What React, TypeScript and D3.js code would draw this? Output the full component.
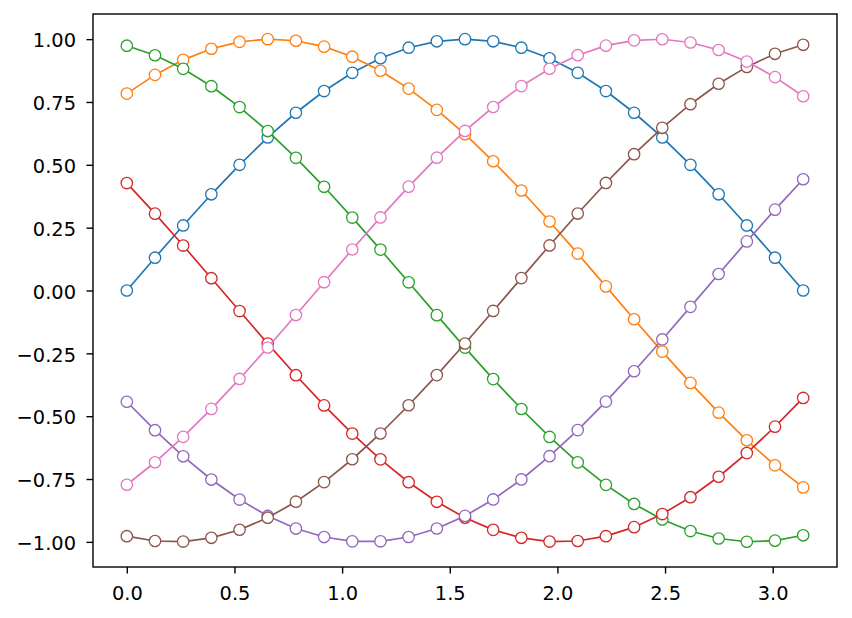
import { useEffect, useRef } from "react";
import * as d3 from "d3";

const WIDTH = 852;
const HEIGHT = 618;
const MARGIN = { top: 14, right: 15, bottom: 51, left: 93 };
const INNER_W = WIDTH - MARGIN.left - MARGIN.right;
const INNER_H = HEIGHT - MARGIN.top - MARGIN.bottom;

// 25 sample positions from 0 to pi
const xValues = [
  0, 0.1309, 0.2618, 0.3927, 0.5236, 0.6545, 0.7854, 0.9163, 1.0472, 1.1781,
  1.309, 1.4399, 1.5708, 1.7017, 1.8326, 1.9635, 2.0944, 2.2253, 2.3562,
  2.4871, 2.618, 2.7489, 2.8798, 3.0107, 3.1416,
];

const blue = [
  0, 0.1305, 0.2588, 0.3827, 0.5, 0.6088, 0.7071, 0.7934, 0.866, 0.9239,
  0.9659, 0.9914, 1, 0.9914, 0.9659, 0.9239, 0.866, 0.7934, 0.7071, 0.6088,
  0.5, 0.3827, 0.2588, 0.1305, 0,
];
const orange = [
  0.7833, 0.8578, 0.9176, 0.9617, 0.9893, 0.9999, 0.9935, 0.9701, 0.9301,
  0.8742, 0.8033, 0.7186, 0.6217, 0.5141, 0.3978, 0.2745, 0.1467, 0.0163,
  -0.1143, -0.2431, -0.3676, -0.4859, -0.5959, -0.6956, -0.7833,
];
const green = [
  0.9738, 0.9359, 0.8818, 0.8128, 0.7298, 0.6344, 0.5279, 0.4126, 0.2902,
  0.1627, 0.0326, -0.0981, -0.2272, -0.3524, -0.4715, -0.5826, -0.6836,
  -0.7732, -0.8492, -0.9109, -0.957, -0.9866, -0.9995, -0.9952, -0.9738,
];
const red = [
  0.4274, 0.3057, 0.1788, 0.0489, -0.0818, -0.2113, -0.337, -0.4571, -0.5693,
  -0.6717, -0.7627, -0.8406, -0.9041, -0.9522, -0.9838, -0.9988, -0.9966,
  -0.9774, -0.9415, -0.8894, -0.8223, -0.7409, -0.6469, -0.5417, -0.4274,
];
const purple = [
  -0.4426, -0.5558, -0.6596, -0.752, -0.8317, -0.8969, -0.947, -0.9808,
  -0.9979, -0.9978, -0.9807, -0.9468, -0.8968, -0.8313, -0.7517, -0.6592,
  -0.5554, -0.442, -0.3212, -0.1948, -0.0651, 0.0657, 0.1953, 0.3216, 0.4426,
];
const brown = [
  -0.9775, -0.9966, -0.9988, -0.9838, -0.9519, -0.9039, -0.8402, -0.7623,
  -0.6713, -0.5689, -0.4566, -0.3366, -0.2108, -0.0813, 0.0494, 0.1793,
  0.3062, 0.4278, 0.5422, 0.6473, 0.7411, 0.8225, 0.8896, 0.9417, 0.9775,
];
const pink = [
  -0.7728, -0.6833, -0.5822, -0.471, -0.3519, -0.2267, -0.0976, 0.0331,
  0.1632, 0.2907, 0.4131, 0.5284, 0.6348, 0.7301, 0.8132, 0.8821, 0.9361,
  0.974, 0.9952, 0.9995, 0.9866, 0.9568, 0.9107, 0.8489, 0.7728,
];

const SERIES = [blue, orange, green, red, purple, brown, pink];
const COLORS = [
  "#1f77b4",
  "#ff7f0e",
  "#2ca02c",
  "#d62728",
  "#9467bd",
  "#8c564b",
  "#e377c2",
];

const xTicks = [0, 0.5, 1, 1.5, 2, 2.5, 3];
const yTicks = [-1, -0.75, -0.5, -0.25, 0, 0.25, 0.5, 0.75, 1];

const FONT = "DejaVu Sans, sans-serif";
const FONT_SIZE = 19.4;

export default function App() {
  const svgRef = useRef<SVGSVGElement>(null);

  useEffect(() => {
    if (!svgRef.current) return;
    const svg = d3.select(svgRef.current);
    svg.selectAll("*").remove();

    const xMin = 0;
    const xMax = xValues[xValues.length - 1];
    const xPad = (xMax - xMin) * 0.05;
    const x = d3
      .scaleLinear()
      .domain([xMin - xPad, xMax + xPad])
      .range([0, INNER_W]);
    const y = d3.scaleLinear().domain([-1.1, 1.1]).range([INNER_H, 0]);

    const g = svg
      .append("g")
      .attr("transform", `translate(${MARGIN.left},${MARGIN.top})`);

    const line = d3
      .line<number>()
      .x((_, i) => x(xValues[i]))
      .y((d) => y(d));

    SERIES.forEach((values, si) => {
      const s = g.append("g");
      s.append("path")
        .datum(values)
        .attr("fill", "none")
        .attr("stroke", COLORS[si])
        .attr("stroke-width", 1.7)
        .attr("d", line);
      s.selectAll("circle")
        .data(values)
        .join("circle")
        .attr("cx", (_, i) => x(xValues[i]))
        .attr("cy", (d) => y(d))
        .attr("r", 5.7)
        .attr("fill", "white")
        .attr("stroke", COLORS[si])
        .attr("stroke-width", 1.3);
    });

    const xAxis = g
      .append("g")
      .attr("transform", `translate(0,${INNER_H})`)
      .call(
        d3
          .axisBottom(x)
          .tickValues(xTicks)
          .tickSize(6.5)
          .tickPadding(12.5)
          .tickFormat(d3.format(".1f"))
      );
    xAxis.select(".domain").remove();

    const yAxis = g.append("g").call(
      d3
        .axisLeft(y)
        .tickValues(yTicks)
        .tickSize(6.5)
        .tickPadding(10.5)
        .tickFormat((d) => d3.format(".2f")(d as number).replace("-", "\u2212"))
    );
    yAxis.select(".domain").remove();
    yAxis.selectAll("text").attr("dy", "0.4em");

    [xAxis, yAxis].forEach((a) => {
      a.selectAll("line").attr("stroke", "#000").attr("stroke-width", 1.4);
      a.selectAll("text")
        .style("font-family", FONT)
        .style("font-size", `${FONT_SIZE}px`)
        .style("fill", "#000");
    });

    g.append("rect")
      .attr("x", 0)
      .attr("y", 0)
      .attr("width", INNER_W)
      .attr("height", INNER_H)
      .attr("fill", "none")
      .attr("stroke", "#000")
      .attr("stroke-width", 1.4);
  }, []);

  return (
    <svg
      ref={svgRef}
      width={WIDTH}
      height={HEIGHT}
      style={{ position: "absolute", left: 0, top: 0, background: "white" }}
    />
  );
}
